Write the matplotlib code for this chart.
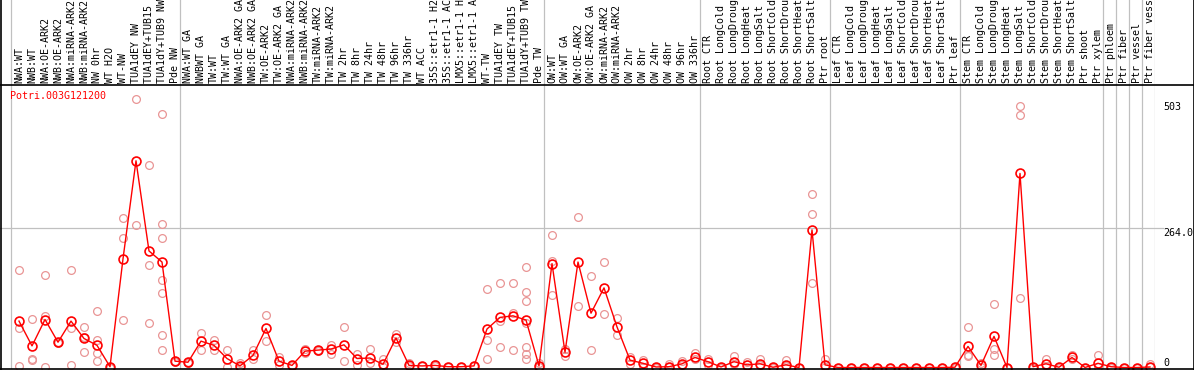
import matplotlib
matplotlib.use("Agg")
import matplotlib.pyplot as plt
from matplotlib.lines import Line2D

labels = [
    "NWA:WT", "NWB:WT", "NWA:OE-ARK2", "NWB:OE-ARK2", "NWA:miRNA-ARK2", "NWB:miRNA-ARK2",
    "NW 0hr", "WT H2O", "WT-NW", "TUA1dEY NW", "TUA1dEY+TUB15 NW", "TUA1dY+TUB9 NW", "Pde NW",
    "NWA:WT GA", "NWBWT GA", "TW:WT", "TW:WT GA", "NWA:OE-ARK2 GA", "NWB:OE-ARK2 GA",
    "TW:OE-ARK2", "TW:OE-ARK2 GA", "NWA:miRNA-ARK2 GA", "NWB:miRNA-ARK2 GA", "TW:miRNA-ARK2",
    "TW:miRNA-ARK2 GA", "TW 2hr", "TW 8hr", "TW 24hr", "TW 48hr", "TW 96hr", "TW 336hr",
    "WT ACC", "35S::etr1-1 H2O", "35S::etr1-1 ACC", "LMX5::etr1-1 H2O", "LMX5::etr1-1 ACC",
    "WT-TW", "TUA1dEY TW", "TUA1dEY+TUB15 TW", "TUA1dY+TUB9 TW", "Pde TW",
    "OW:WT", "OW:WT GA", "OW:OE-ARK2", "OW:OE-ARK2 GA", "OW:miRNA-ARK2", "OW:miRNA-ARK2 GA",
    "OW 2hr", "OW 8hr", "OW 24hr", "OW 48hr", "OW 96hr", "OW 336hr",
    "Root CTR", "Root LongCold", "Root LongDrought", "Root LongHeat", "Root LongSalt",
    "Root ShortCold", "Root ShortDrought", "Root ShortHeat", "Root ShortSalt", "Ptr root",
    "Leaf CTR", "Leaf LongCold", "Leaf LongDrought", "Leaf LongHeat", "Leaf LongSalt",
    "Leaf ShortCold", "Leaf ShortDrought", "Leaf ShortHeat", "Leaf ShortSalt", "Ptr leaf",
    "Stem CTR", "Stem LongCold", "Stem LongDrought", "Stem LongHeat", "Stem LongSalt",
    "Stem ShortCold", "Stem ShortDrought", "Stem ShortHeat", "Stem ShortSalt", "Ptr shoot",
    "Ptr xylem", "Ptr phloem", "Ptr fiber", "Ptr vessel", "Ptr fiber vessel",
]

means = [
    88, 41, 91, 48, 88, 55, 42, 1.5, 206, 392, 221, 200, 12,
    10, 50, 42, 17, 3, 23, 74, 12, 4, 31, 33, 35, 43, 17, 18, 6, 56, 4,
    3, 4, 1.5, 1.5, 3, 73, 95, 98, 90, 3,
    197, 29, 200, 103, 151, 77, 14, 8, 1, 1.5, 7, 19,
    11, 1, 11, 5, 7, 0.5, 5, 0, 261, 5,
    0, 0, 0, 0, 0, 0, 0, 0, 0, 0.5,
    40, 4, 59, 0, 368, 1.5, 7, 0.5, 19, 0,
    8, 1.5, 0, 0, 1,
]

replicates = [
    [184, 74, 3], [92, 17, 15], [175, 98, 1.5], [48, 46], [184, 74, 4], [76, 58, 29],
    [107, 53, 27, 12], [1, 0], [283, 246, 90], [510, 270], [384, 194, 84],
    [480, 272, 245, 165, 141, 61, 33], [12, 10],
    [10, 9], [65, 33], [52, 33], [33, 1.5], [8, 1], [33, 16], [100, 51], [20, 4],
    [4, 3], [35, 28], [34, 32], [43, 26], [77, 12], [26, 4], [35, 8], [17, 1],
    [64, 48], [9, 2], [3, 2], [6, 3], [1.5, 1], [1.5, 1], [2, 3],
    [148, 52, 17], [160, 89, 38], [160, 104, 33], [191, 143, 127, 84, 39, 25, 16], [9, 1],
    [251, 202, 137], [35, 21], [285, 116], [174, 33], [200, 102], [93, 61],
    [19, 7], [14, 1], [1, 0], [7, 1], [13, 5], [27, 16],
    [16, 4], [1, 0], [21, 6], [11, 1], [16, 4], [1, 0], [14, 2], [0, 0], [329, 292, 160], [17, 1],
    [0, 0], [0, 0], [0, 0], [0, 0], [0, 0], [0, 0], [0, 0], [0, 0], [0, 0], [1, 0],
    [76, 24, 21], [9, 1], [120, 36, 23], [0, 0], [496, 478, 131], [1, 0], [17, 3], [1, 0],
    [24, 16], [0, 0], [24, 1], [1, 0], [0, 0], [0, 0], [7, 1],
]

group_ends = [-1, 12, 40, 52, 62, 72, 83, 84, 85, 86, 87]
tick_values = [503, 264.0, 0]
tick_texts = ["503", "264.0", "0"]
gene = "Potri.003G121200"

W, H = 1194, 370
fig = plt.figure(figsize=(W / 100, H / 100), dpi=100)
fig.patch.set_facecolor("white")

mono = "DejaVu Sans Mono"
fs = 7.2

# pixel helpers for layout
def fx(px):
    return px / W

def fy(py):
    return (H - py) / H

x0_px, dx_px = 19, 13
xl = (-x0_px / dx_px, (1155 - x0_px) / dx_px)

# main plot axes
ax = fig.add_axes([0, fy(369), fx(1155), (369 - 85) / H])
ax.set_xlim(*xl)
ax.set_ylim(-2.84, 535.7)
ax.axis("off")

# header axes
hx = fig.add_axes([0, fy(85), fx(1155), 85 / H])
hx.set_xlim(*xl)
hx.set_ylim(85, 0)
hx.axis("off")

grid_c = "#c0c0c0"
off = 5 / 13
for g in group_ends:
    ax.axvline(g + off, color=grid_c, lw=0.9, zorder=0)
    hx.axvline(g + off, color=grid_c, lw=0.9, zorder=0)
ax.axhline(264.0, xmin=0, xmax=1163 / 1155, color=grid_c, lw=0.9, zorder=0, clip_on=False)

for i, lab in enumerate(labels):
    hx.text(i, 83, lab, rotation=90, ha="center", va="bottom", family=mono,
            fontsize=fs, color="black")

# replicates
rx, ry = [], []
for i, reps in enumerate(replicates):
    for v in reps:
        rx.append(i)
        ry.append(v)
ax.plot(rx, ry, ls="none", marker="o", ms=5.6, mfc="none", mec="#e99595",
        mew=0.9, zorder=2, clip_on=False)

# means
ax.plot(range(len(means)), means, color="#ff0000", lw=1.0, marker="o", ms=6.4,
        mfc="none", mec="#ff0000", mew=1.2, zorder=3, clip_on=False)

ax.text(10 / 1155, 96, gene, transform=ax.transAxes, color="#ff0000",
        family=mono, fontsize=fs, ha="left", va="center")
# place title in pixel coords
ax.texts[-1].set_transform(fig.transFigure)
ax.texts[-1].set_position((fx(10), fy(96)))

from matplotlib.transforms import blended_transform_factory
bt = blended_transform_factory(fig.transFigure, ax.transData)
for v, t in zip(tick_values, tick_texts):
    ax.text(fx(1163), v, t, transform=bt, family=mono, fontsize=fs,
            ha="left", va="top" if v > 0 else "bottom", color="black")

# frame lines
for (xa, ya, xb, yb) in [(0.5, 0, 0.5, 370), (1193.5, 0, 1193.5, 370),
                         (0, 85, 1194, 85), (0, 368.8, 1194, 368.8)]:
    fig.add_artist(Line2D([fx(xa), fx(xb)], [fy(ya), fy(yb)], color="black", lw=1.2,
                          transform=fig.transFigure))

fig.savefig("out.png", dpi=100, facecolor="white")
